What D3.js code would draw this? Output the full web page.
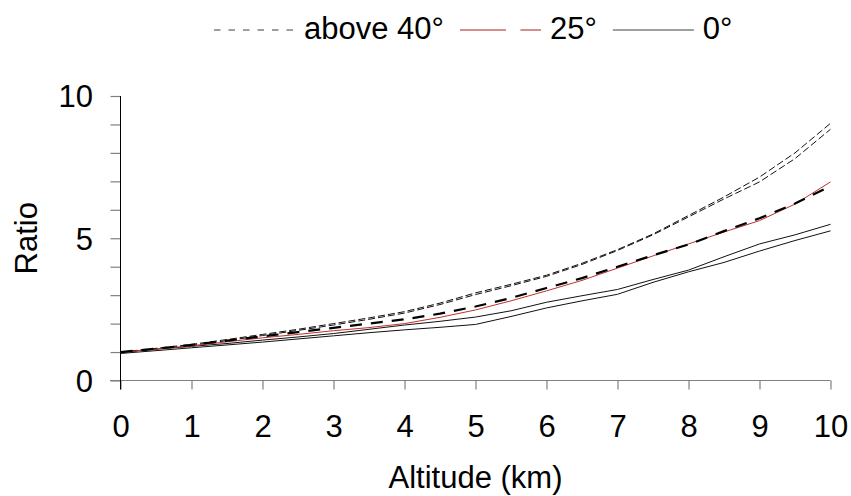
<!DOCTYPE html>
<html>
<head>
<meta charset="utf-8">
<script src="https://cdn.jsdelivr.net/npm/d3@7"></script>
<style>
  html, body { margin: 0; padding: 0; background: #fff; }
  svg { display: block; font-family: "Liberation Sans", Arial, sans-serif; }
</style>
</head>
<body>
<svg id="chart" width="851" height="496"></svg>
<script>
// Altitude samples (km) shared by every curve
const altitudeKm = [0, 0.5, 1, 1.5, 2, 2.5, 3, 3.5, 4, 4.5, 5, 5.5, 6, 6.5, 7, 7.5, 8, 8.5, 9, 9.5, 10];

// Ratio curves, two per latitude band
const above40A = [1.00, 1.13, 1.27, 1.44, 1.62, 1.80, 2.00, 2.20, 2.42, 2.72, 3.08, 3.38, 3.70, 4.12, 4.60, 5.15, 5.80, 6.45, 7.15, 8.00, 9.04];
const above40B = [0.98, 1.11, 1.24, 1.40, 1.58, 1.76, 1.95, 2.15, 2.37, 2.67, 3.02, 3.33, 3.66, 4.08, 4.57, 5.12, 5.75, 6.38, 6.98, 7.80, 8.83];
const deg25Red = [1.00, 1.10, 1.22, 1.36, 1.50, 1.62, 1.75, 1.86, 2.00, 2.22, 2.48, 2.80, 3.15, 3.52, 3.95, 4.38, 4.80, 5.22, 5.62, 6.20, 6.98];
const deg25Dash = [1.00, 1.12, 1.25, 1.40, 1.55, 1.70, 1.85, 2.00, 2.15, 2.35, 2.60, 2.90, 3.25, 3.60, 4.00, 4.40, 4.78, 5.25, 5.70, 6.22, 6.83];
const deg0A = [1.00, 1.10, 1.20, 1.30, 1.42, 1.53, 1.65, 1.80, 1.95, 2.08, 2.23, 2.45, 2.75, 2.98, 3.20, 3.55, 3.88, 4.35, 4.80, 5.12, 5.49];
const deg0B = [0.95, 1.05, 1.15, 1.25, 1.35, 1.46, 1.57, 1.68, 1.78, 1.87, 1.97, 2.25, 2.55, 2.80, 3.03, 3.45, 3.82, 4.15, 4.55, 4.92, 5.26];

// Axis ticks
const xTickValues = [0, 1, 2, 3, 4, 5, 6, 7, 8, 9, 10];
const yTickValues = [0, 1, 2, 3, 4, 5, 6, 7, 8, 9, 10];
const yLabelledTicks = [0, 5, 10];

// Legend entries
const legendLabels = ["above 40°", "25°", "0°"];

// Drawing styles for each curve (drawn in this order)
const curveStyles = [
  { values: deg0A, stroke: "#111", width: 1, dash: null },
  { values: deg0B, stroke: "#111", width: 1, dash: null },
  { values: above40A, stroke: "#111", width: 1, dash: "7,3" },
  { values: above40B, stroke: "#111", width: 1, dash: "7,3" },
  { values: deg25Red, stroke: "#c0302c", width: 1, dash: null },
  { values: deg25Dash, stroke: "#000", width: 2.2, dash: "12,9" }
];
const legendStyles = [
  { stroke: "#7f7f7f", dash: "6.5,8" },
  { stroke: "#c76a66", dash: "46,14.5" },
  { stroke: "#7f7f7f", dash: null }
];

const FONT = 31;
const svg = d3.select("#chart");

const x = d3.scaleLinear().domain([0, 10]).range([120.5, 830.5]);
const y = d3.scaleLinear().domain([0, 10]).range([380.5, 96]);

// ---- axes ----
const axisColor = "#808080";

// x axis baseline
svg.append("line")
  .attr("x1", 110).attr("x2", x(10))
  .attr("y1", y(0)).attr("y2", y(0))
  .attr("stroke", axisColor).attr("stroke-width", 1.2);

const xAxis = svg.append("g")
  .attr("transform", `translate(0,${y(0)})`)
  .call(d3.axisBottom(x).tickValues(xTickValues).tickSize(9).tickSizeOuter(0).tickFormat(d3.format("d")));
xAxis.select(".domain").remove();
xAxis.selectAll(".tick line").attr("stroke", axisColor).attr("stroke-width", 1.2);
xAxis.selectAll(".tick text")
  .attr("y", 56.5).attr("dy", 0)
  .attr("fill", "#000")
  .style("font-size", FONT + "px")
  .style("font-family", "'Liberation Sans', Arial, sans-serif");

const yAxis = svg.append("g")
  .attr("transform", `translate(${x(0)},0)`)
  .call(d3.axisLeft(y).tickValues(yTickValues).tickSize(10).tickSizeOuter(0)
    .tickFormat(d => yLabelledTicks.includes(d) ? d3.format("d")(d) : ""));
yAxis.select(".domain").remove();
yAxis.selectAll(".tick line").attr("stroke", axisColor).attr("stroke-width", 1.2);
yAxis.selectAll(".tick text")
  .attr("x", -27.5).attr("dy", "0.35em")
  .attr("fill", "#000")
  .style("font-size", FONT + "px")
  .style("font-family", "'Liberation Sans', Arial, sans-serif");

// y axis spine
svg.append("line")
  .attr("x1", x(0)).attr("x2", x(0))
  .attr("y1", y(10)).attr("y2", y(0) + 9)
  .attr("stroke", "#000").attr("stroke-width", 1);

// axis titles
svg.append("text")
  .attr("x", (x(0) + x(10)) / 2).attr("y", 488)
  .attr("text-anchor", "middle")
  .style("font-size", FONT + "px")
  .text("Altitude (km)");

svg.append("text")
  .attr("transform", `translate(37,${(y(0) + y(10)) / 2}) rotate(-90)`)
  .attr("text-anchor", "middle")
  .style("font-size", FONT + "px")
  .text("Ratio");

// ---- curves ----
const line = d3.line()
  .x((d, i) => x(altitudeKm[i]))
  .y(d => y(d));

svg.append("g").selectAll("path")
  .data(curveStyles)
  .join("path")
  .attr("d", d => line(d.values))
  .attr("fill", "none")
  .attr("stroke", d => d.stroke)
  .attr("stroke-width", d => d.width)
  .attr("stroke-dasharray", d => d.dash)
  .attr("stroke-linejoin", "round");

// ---- legend ----
const legend = svg.append("g");
const legendY = 30;
const swatchLen = 81;
let cursor = 214;
legendLabels.forEach((label, i) => {
  const st = legendStyles[i];
  legend.append("line")
    .attr("x1", cursor).attr("x2", cursor + swatchLen)
    .attr("y1", legendY).attr("y2", legendY)
    .attr("stroke", st.stroke).attr("stroke-width", 1.3)
    .attr("stroke-dasharray", st.dash);
  const t = legend.append("text")
    .attr("x", cursor + swatchLen + 9).attr("y", legendY + 9)
    .style("font-size", FONT + "px")
    .text(label);
  cursor += swatchLen + 9 + t.node().getComputedTextLength() + 16;
});
</script>
</body>
</html>
